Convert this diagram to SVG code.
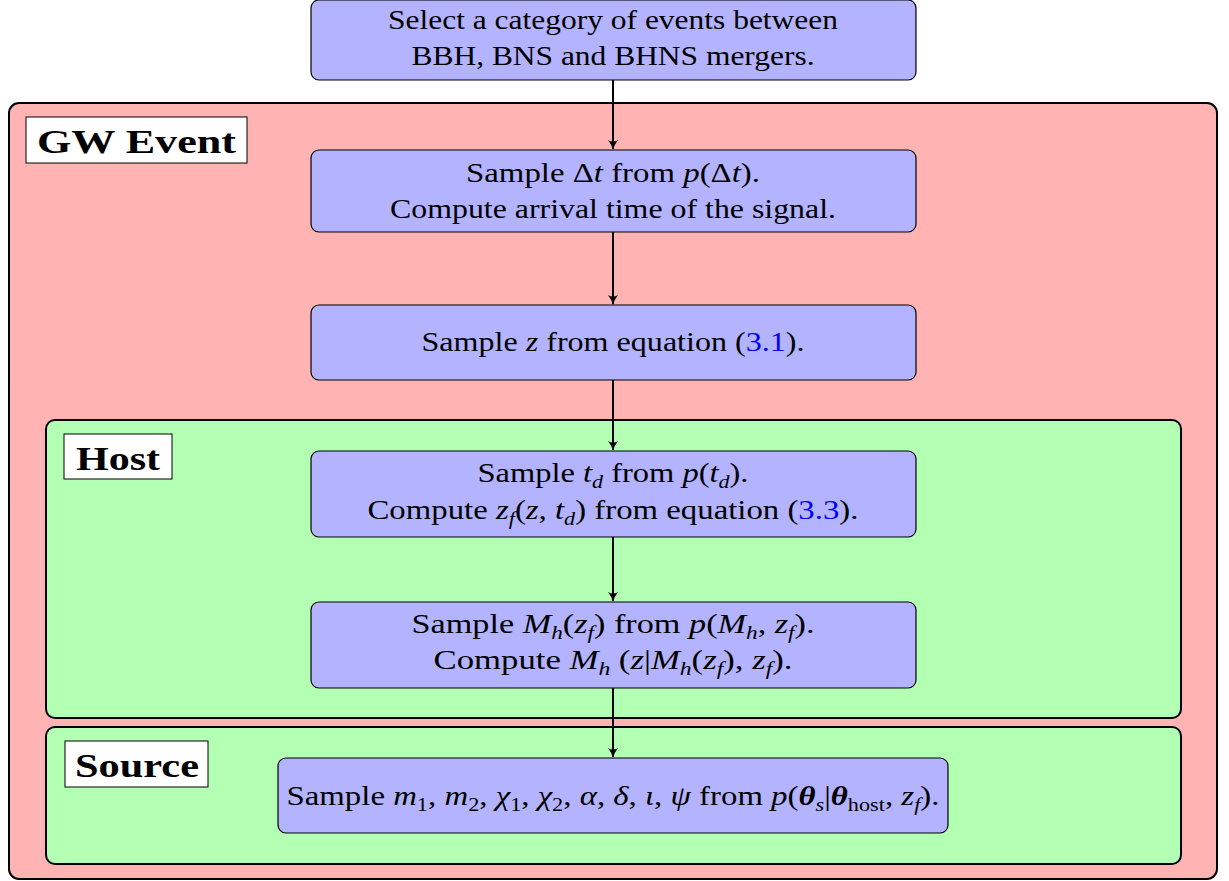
<svg xmlns="http://www.w3.org/2000/svg" width="1229" height="881" viewBox="0 0 1229 881">
<style>
.red{fill:#ffb3b3;stroke:#000;stroke-width:2}
.green{fill:#b3ffb3;stroke:#000;stroke-width:2}
.node{fill:#b3b3ff;stroke:#000;stroke-width:1.2}
.lab{fill:#fff;stroke:#000;stroke-width:1}
.t{font-family:"Liberation Serif","Times New Roman",serif;font-size:28px;fill:#000;text-anchor:middle}
.lt{font-family:"Liberation Serif","Times New Roman",serif;font-size:34px;font-weight:bold;fill:#000}
.i{font-style:italic}
.b{font-weight:bold;font-style:italic}
.s{font-size:19px}
.ref{fill:#0000ff}
.conn{stroke:#000;stroke-width:2;fill:none}
</style>
<defs>
<marker id="arr" markerWidth="12" markerHeight="12" refX="10" refY="6" orient="auto" markerUnits="userSpaceOnUse">
<path d="M1,1 Q6,5 11,6 Q6,7 1,11 Q4,6 1,1 Z" fill="#000"/>
</marker>
</defs>
<g id="gw-event">
<rect class="red" x="9" y="103" width="1208" height="776" rx="10"/>
<rect class="lab" x="26" y="117" width="221" height="46"/>
<text class="lt" x="37" y="153" textLength="199" lengthAdjust="spacingAndGlyphs">GW Event</text>
</g>
<g id="host">
<rect class="green" x="46" y="420" width="1135" height="298" rx="9"/>
<rect class="lab" x="64" y="434" width="108" height="45"/>
<text class="lt" x="76" y="470" textLength="84" lengthAdjust="spacingAndGlyphs">Host</text>
</g>
<g id="source">
<rect class="green" x="46" y="727" width="1135" height="137" rx="9"/>
<rect class="lab" x="65" y="741" width="143" height="46"/>
<text class="lt" x="75" y="777" textLength="124" lengthAdjust="spacingAndGlyphs">Source</text>
</g>
<g id="select">
<rect class="node" x="311" y="0" width="605" height="80" rx="8"/>
<text class="t" x="613" y="29" textLength="450" lengthAdjust="spacingAndGlyphs">Select a category of events between</text>
<text class="t" x="613" y="65" textLength="403" lengthAdjust="spacingAndGlyphs">BBH, BNS and BHNS mergers.</text>
</g>
<g id="sample-dt">
<rect class="node" x="311" y="150" width="605" height="82" rx="8"/>
<text class="t" x="613" y="182" textLength="294" lengthAdjust="spacingAndGlyphs">Sample Δ<tspan class="i">t</tspan> from <tspan class="i">p</tspan>(Δ<tspan class="i">t</tspan>).</text>
<text class="t" x="613" y="218" textLength="446" lengthAdjust="spacingAndGlyphs">Compute arrival time of the signal.</text>
</g>
<g id="sample-z">
<rect class="node" x="311" y="305" width="605" height="75" rx="8"/>
<text class="t" x="613" y="351" textLength="383" lengthAdjust="spacingAndGlyphs">Sample <tspan class="i">z</tspan> from equation (<tspan class="ref">3.1</tspan>).</text>
</g>
<g id="sample-td">
<rect class="node" x="311" y="451" width="605" height="86" rx="8"/>
<text class="t" x="613" y="482" textLength="271" lengthAdjust="spacingAndGlyphs">Sample <tspan class="i">t</tspan><tspan class="i s" dy="6">d</tspan><tspan dy="-6"> from </tspan><tspan class="i">p</tspan>(<tspan class="i">t</tspan><tspan class="i s" dy="6">d</tspan><tspan dy="-6">).</tspan></text>
<text class="t" x="613" y="519" textLength="491" lengthAdjust="spacingAndGlyphs">Compute <tspan class="i">z</tspan><tspan class="i s" dy="6">f</tspan><tspan dy="-6">(</tspan><tspan class="i">z</tspan>, <tspan class="i">t</tspan><tspan class="i s" dy="6">d</tspan><tspan dy="-6">) from equation (</tspan><tspan class="ref">3.3</tspan>).</text>
</g>
<g id="sample-mh">
<rect class="node" x="311" y="602" width="605" height="86" rx="8"/>
<text class="t" x="613" y="633" textLength="403" lengthAdjust="spacingAndGlyphs">Sample <tspan class="i">M</tspan><tspan class="i s" dy="6">h</tspan><tspan dy="-6">(</tspan><tspan class="i">z</tspan><tspan class="i s" dy="6">f</tspan><tspan dy="-6">) from </tspan><tspan class="i">p</tspan>(<tspan class="i">M</tspan><tspan class="i s" dy="6">h</tspan><tspan dy="-6">, </tspan><tspan class="i">z</tspan><tspan class="i s" dy="6">f</tspan><tspan dy="-6">).</tspan></text>
<text class="t" x="613" y="669" textLength="359" lengthAdjust="spacingAndGlyphs">Compute <tspan class="i">M</tspan><tspan class="i s" dy="6">h</tspan><tspan dy="-6"> (</tspan><tspan class="i">z</tspan>|<tspan class="i">M</tspan><tspan class="i s" dy="6">h</tspan><tspan dy="-6">(</tspan><tspan class="i">z</tspan><tspan class="i s" dy="6">f</tspan><tspan dy="-6">), </tspan><tspan class="i">z</tspan><tspan class="i s" dy="6">f</tspan><tspan dy="-6">).</tspan></text>
</g>
<g id="sample-source">
<rect class="node" x="278" y="758" width="670" height="75" rx="8"/>
<text class="t" x="613" y="805" textLength="653" lengthAdjust="spacingAndGlyphs">Sample <tspan class="i">m</tspan><tspan class="s" dy="6">1</tspan><tspan dy="-6">, </tspan><tspan class="i">m</tspan><tspan class="s" dy="6">2</tspan><tspan dy="-6">, </tspan><tspan class="i">χ</tspan><tspan class="s" dy="6">1</tspan><tspan dy="-6">, </tspan><tspan class="i">χ</tspan><tspan class="s" dy="6">2</tspan><tspan dy="-6">, </tspan><tspan class="i">α</tspan>, <tspan class="i">δ</tspan>, <tspan class="i">ι</tspan>, <tspan class="i">ψ</tspan> from <tspan class="i">p</tspan>(<tspan class="b">θ</tspan><tspan class="i s" dy="6">s</tspan><tspan dy="-6">|</tspan><tspan class="b">θ</tspan><tspan class="s" dy="6">host</tspan><tspan dy="-6">, </tspan><tspan class="i">z</tspan><tspan class="i s" dy="6">f</tspan><tspan dy="-6">).</tspan></text>
</g>
<g id="connectors">
<line class="conn" x1="613" y1="80" x2="613" y2="149" marker-end="url(#arr)"/>
<line class="conn" x1="613" y1="232" x2="613" y2="304" marker-end="url(#arr)"/>
<line class="conn" x1="613" y1="380" x2="613" y2="450" marker-end="url(#arr)"/>
<line class="conn" x1="613" y1="537" x2="613" y2="601" marker-end="url(#arr)"/>
<line class="conn" x1="613" y1="688" x2="613" y2="757" marker-end="url(#arr)"/>
</g>
</svg>
